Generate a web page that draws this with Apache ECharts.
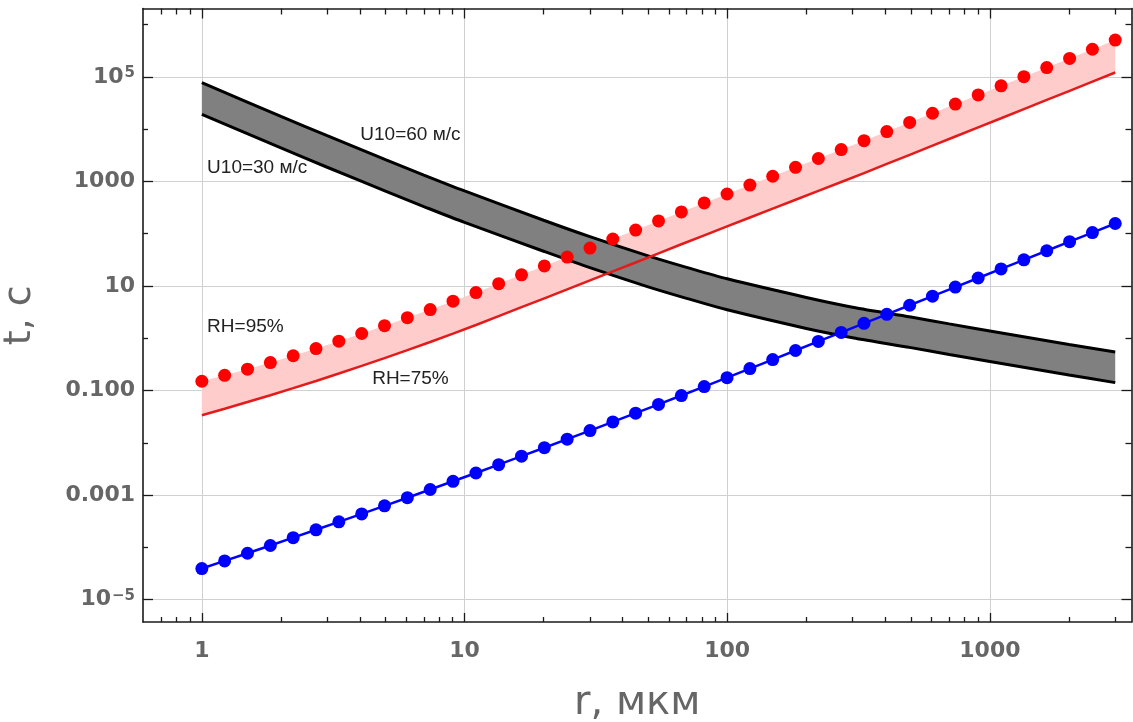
<!DOCTYPE html>
<html>
<head>
<meta charset="utf-8">
<script src="https://cdn.jsdelivr.net/npm/echarts@6/dist/echarts.min.js"></script>
<style>
  html, body { margin: 0; padding: 0; background: #fff; }
  #chart { width: 1133px; height: 722px; }
</style>
</head>
<body>
<div id="chart"></div>
<script>
// Droplet radius, µm (shared by the RH curves and the blue curve)
const radius = [1, 1.221, 1.492, 1.823, 2.227, 2.720, 3.323, 4.060, 4.959, 6.058,
  7.401, 9.041, 11.05, 13.49, 16.48, 20.13, 24.59, 30.04, 36.69, 44.81,
  54.77, 66.90, 81.74, 99.85, 122.0, 149.0, 182.0, 222.3, 271.6, 331.7,
  405.1, 495.0, 604.6, 738.6, 902.3, 1103, 1347, 1646, 2011, 2456, 3000];

// Time, s — RH = 95 % (dots)
const rh95 = [0.1503, 0.1954, 0.2564, 0.3428, 0.4624, 0.6353, 0.8810, 1.233, 1.738, 2.472,
  3.540, 5.117, 7.482, 11.07, 16.37, 24.21, 35.81, 53.21, 79.25, 117.5,
  175.8, 261.8, 389.0, 575.4, 851.1, 1259, 1862, 2754, 4074, 6026,
  9016, 13490, 20180, 30200, 45190, 67610, 101200, 151400, 226500, 338800, 507000];

// Time, s — RH = 75 % (solid red line)
const rh75 = [0.03365, 0.04477, 0.06012, 0.08128, 0.1109, 0.1524, 0.2113, 0.2958, 0.4169, 0.5929,
  0.8492, 1.227, 1.795, 2.655, 3.926, 5.808, 8.590, 12.76, 19.01, 28.18,
  42.17, 62.81, 93.33, 138.0, 204.2, 302.0, 446.7, 660.7, 977.2, 1445,
  2163, 3236, 4842, 7244, 10840, 16220, 24270, 36310, 54330, 81280, 121600];

// Time, s — blue curve
const blueTime = [3.920e-5, 5.486e-5, 7.697e-5, 1.083e-4, 1.528e-4, 2.161e-4, 3.065e-4, 4.359e-4, 6.217e-4, 8.890e-4,
  1.275e-3, 1.833e-3, 2.642e-3, 3.818e-3, 5.534e-3, 8.042e-3, 0.01171, 0.01712, 0.02507, 0.03684,
  0.05428, 0.08016, 0.1187, 0.1762, 0.2626, 0.3912, 0.5830, 0.8686, 1.294, 1.928,
  2.873, 4.281, 6.387, 9.526, 14.21, 21.21, 31.64, 47.20, 70.42, 105.1, 156.8];

// Wind-speed band
const bandRadius = [1, 2, 3, 5, 7, 10, 20, 30, 50, 70, 100, 200, 300, 500, 700, 1000, 2000, 3000];
const u10at60 = [77450, 17620, 7499, 2618, 1327, 659.2, 181.1, 87.90, 37.76, 22.75,
  13.71, 6.039, 3.936, 2.541, 1.884, 1.380, 0.7586, 0.5433];
const u10at30 = [19320, 4395, 1871, 653.1, 331.1, 164.4, 46.24, 22.44, 9.638, 5.808,
  3.499, 1.542, 1.026, 0.6622, 0.4909, 0.3597, 0.1977, 0.1416];

// Axes
const xRange = [0.597, 3460];
const yRange = [3.72e-6, 2.04e6];
const xMajorTicks = [1, 10, 100, 1000];
const xTickLabels = ['1', '10', '100', '1000'];
const xMinorTicks = [0.7, 0.8, 0.9, 2, 3, 4, 5, 6, 7, 8, 9, 20, 30, 40, 50, 60, 70, 80, 90,
  200, 300, 400, 500, 600, 700, 800, 900, 2000, 3000];
const yLabelledTicks = [1e5, 1e3, 10, 0.1, 1e-3, 1e-5];
const yTickLabels = ['10^5', '1000', '10', '0.100', '0.001', '10^−5'];
const yPlainTicks = [1e6, 1e4, 100, 1, 0.01, 1e-4];

// Curve captions
const captionText = ['U10=60 м/с', 'U10=30 м/с', 'RH=95%', 'RH=75%'];
const captionRadius = [4.01, 1.047, 1.047, 4.45];
const captionTime = [7943, 1832, 1.644, 0.1694];

const lg = Math.log10;
const pairs = (xs, ys) => xs.map((x, i) => [lg(x), lg(ys[i])]);
const nearest = (arr, v) => {
  let best = 0;
  arr.forEach((a, i) => { if (Math.abs(lg(a) - v) < Math.abs(lg(arr[best]) - v)) best = i; });
  return best;
};

const INK = '#1a1a1a';
const LABEL_GRAY = '#666666';
const TICK_FONT = '"DejaVu Sans", sans-serif';
const NAME_FONT = '"DejaVu Sans", sans-serif';

function frameAxis(kind, position, ticks, tickLen, showLine, extra) {
  const range = kind === 'x' ? xRange : yRange;
  return Object.assign({
    type: 'value',
    position: position,
    min: lg(range[0]),
    max: lg(range[1]),
    axisLine: { show: showLine, onZero: false, lineStyle: { color: INK, width: 1.6 } },
    axisTick: { show: true, inside: true, length: tickLen, customValues: ticks.map(lg),
      lineStyle: { color: INK, width: 1.3 } },
    axisLabel: { show: false },
    splitLine: { show: false },
    axisPointer: { show: false }
  }, extra || {});
}

const gridLine = { show: true, lineStyle: { color: '#d0d0d0', width: 1 } };

const xAxes = [
  frameAxis('x', 'bottom', xMajorTicks, 9, true, {
    axisLabel: {
      show: true, customValues: xMajorTicks.map(lg), margin: 18,
      formatter: v => xTickLabels[nearest(xMajorTicks, v)],
      color: LABEL_GRAY, fontFamily: TICK_FONT, fontWeight: 'bold', fontSize: 22
    },
    splitLine: gridLine,
    name: 'r, мкм', nameLocation: 'middle', nameGap: 62,
    nameTextStyle: { color: LABEL_GRAY, fontFamily: NAME_FONT, fontSize: 40 }
  }),
  frameAxis('x', 'bottom', xMinorTicks, 5, false),
  frameAxis('x', 'top', xMajorTicks, 10, true),
  frameAxis('x', 'top', xMinorTicks, 6, false)
];

const yAxes = [
  frameAxis('y', 'left', yLabelledTicks, 10, true, {
    axisLabel: {
      show: true, customValues: yLabelledTicks.map(lg), margin: 8,
      formatter: v => {
        const s = yTickLabels[nearest(yLabelledTicks, v)];
        const parts = s.split('^');
        return parts.length > 1 ? '{m|' + parts[0] + '}{s|' + parts[1] + '}' : '{m|' + s + '}';
      },
      rich: {
        m: { color: LABEL_GRAY, fontFamily: TICK_FONT, fontWeight: 'bold', fontSize: 22 },
        s: { color: LABEL_GRAY, fontFamily: TICK_FONT, fontWeight: 'bold', fontSize: 15,
             verticalAlign: 'top', padding: [0, 0, 0, 1] }
      }
    },
    splitLine: gridLine,
    name: 't, с', nameLocation: 'middle', nameGap: 104,
    nameTextStyle: { color: LABEL_GRAY, fontFamily: NAME_FONT, fontSize: 38 }
  }),
  frameAxis('y', 'left', yPlainTicks, 5, false),
  frameAxis('y', 'right', yLabelledTicks, 10, true),
  frameAxis('y', 'right', yPlainTicks, 6, false)
];

// Filled region between two sampled curves
function fillBetween(name, xs, lower, upper, color, z) {
  return {
    type: 'custom', name: name, z: z, silent: true,
    data: [[lg(xs[0]), lg(lower[0])]],
    renderItem: (params, api) => {
      const pts = [];
      for (let i = 0; i < xs.length; i++) pts.push(api.coord([lg(xs[i]), lg(upper[i])]));
      for (let i = xs.length - 1; i >= 0; i--) pts.push(api.coord([lg(xs[i]), lg(lower[i])]));
      return { type: 'polygon', shape: { points: pts }, style: { fill: color } };
    }
  };
}

const option = {
  animation: false,
  backgroundColor: '#ffffff',
  grid: { left: 143, right: 1.5, top: 8.5, bottom: 100, containLabel: false, outerBoundsMode: 'none' },
  xAxis: xAxes,
  yAxis: yAxes,
  series: [
    fillBetween('RH fill', radius, rh75, rh95, '#ffcccc', 1),
    fillBetween('U10 fill', bandRadius, u10at30, u10at60, '#808080', 2),
    { type: 'line', name: 'U10=60 м/с', data: pairs(bandRadius, u10at60), symbol: 'none', z: 3, silent: true,
      smooth: 0.3, lineStyle: { color: '#000000', width: 3 } },
    { type: 'line', name: 'U10=30 м/с', data: pairs(bandRadius, u10at30), symbol: 'none', z: 3, silent: true,
      smooth: 0.3, lineStyle: { color: '#000000', width: 3 } },
    { type: 'line', name: 'RH=75%', data: pairs(radius, rh75), symbol: 'none', z: 4, silent: true,
      lineStyle: { color: '#e31b1b', width: 2.5 } },
    { type: 'scatter', name: 'RH=95%', data: pairs(radius, rh95), symbol: 'circle', symbolSize: 13, z: 5,
      silent: true, itemStyle: { color: '#ff0000', opacity: 1 } },
    { type: 'line', name: 'blue', data: pairs(radius, blueTime), symbol: 'circle', symbolSize: 13,
      showAllSymbol: true, z: 6, silent: true,
      itemStyle: { color: '#0000ff', opacity: 1 }, lineStyle: { color: '#0000ff', width: 2.5 } },
    { type: 'custom', name: 'captions', z: 7, silent: true,
      data: captionText.map((t, i) => [lg(captionRadius[i]), lg(captionTime[i])]),
      renderItem: (params, api) => {
        const c = api.coord([api.value(0), api.value(1)]);
        return { type: 'text', x: c[0], y: c[1],
          style: { text: captionText[params.dataIndex], fill: '#222222',
            font: '19px "Liberation Sans", Arial, sans-serif', align: 'left', verticalAlign: 'middle' } };
      }
    }
  ]
};

const chart = echarts.init(document.getElementById('chart'), null, { renderer: 'canvas' });
chart.setOption(option);
</script>
</body>
</html>
